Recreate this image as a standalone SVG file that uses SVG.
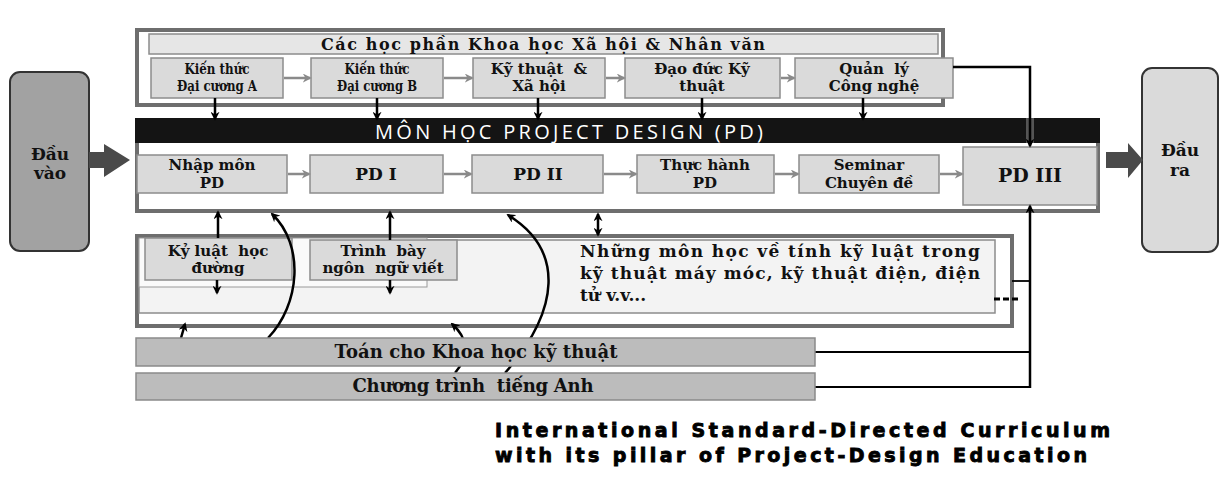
<svg xmlns="http://www.w3.org/2000/svg" width="1220" height="483" viewBox="0 0 1220 483">
<style>
.frame{fill:#fff;stroke:#6e6e6e;stroke-width:4}
.box{fill:#dadada;stroke:#8c8c8c;stroke-width:1.5}
.hdr{fill:#e6e6e6;stroke:#8c8c8c;stroke-width:1.5}
.bar{fill:#bcbcbc;stroke:#8a8a8a;stroke-width:1.5}
.t{font-family:"DejaVu Serif","Liberation Serif",serif;font-weight:bold;fill:#111;text-anchor:middle}
.s14{font-size:14px}.s15{font-size:15px}.s16{font-size:16px}.s17{font-size:17px}.s18{font-size:18px}
.blk{fill:none;stroke:#000;stroke-width:2.5}
.gry{fill:none;stroke:#8a8a8a;stroke-width:2.5}
.thin{fill:none;stroke:#000;stroke-width:1.8}
.big{fill:#4a4a4a}
</style>
<defs>
<marker id="ab" viewBox="0 0 10 10" refX="8" refY="5" markerWidth="9" markerHeight="9" markerUnits="userSpaceOnUse" orient="auto-start-reverse"><path d="M0,0 L10,5 L0,10 L3,5 z" fill="#000"/></marker>
<marker id="ag" viewBox="0 0 10 10" refX="8" refY="5" markerWidth="9" markerHeight="9" markerUnits="userSpaceOnUse" orient="auto"><path d="M0,0 L10,5 L0,10 L3,5 z" fill="#8a8a8a"/></marker>
</defs>
<rect width="1220" height="483" fill="#fff"/>

<!-- Top frame -->
<g id="humanities">
<rect class="frame" x="137" y="30" width="806" height="75"/>
<rect class="hdr" x="149" y="34" width="789" height="20"/>
<text class="t s16" x="543" y="50" textLength="444" lengthAdjust="spacing">Các học phần Khoa học Xã hội &amp; Nhân văn</text>
</g>
<g id="kt-a"><rect class="box" x="151" y="58" width="132" height="40"/>
<text class="t s14" x="217" y="74" textLength="65" lengthAdjust="spacingAndGlyphs">Kiến thức</text>
<text class="t s14" x="217" y="91" textLength="80" lengthAdjust="spacingAndGlyphs">Đại cương A</text></g>
<g id="kt-b"><rect class="box" x="311" y="58" width="132" height="40"/>
<text class="t s14" x="377" y="74" textLength="65" lengthAdjust="spacingAndGlyphs">Kiến thức</text>
<text class="t s14" x="377" y="91" textLength="80" lengthAdjust="spacingAndGlyphs">Đại cương B</text></g>
<g id="ktxh"><rect class="box" x="473" y="58" width="132" height="40"/>
<text class="t s15" x="539" y="74" xml:space="preserve">Kỹ thuật  &amp;</text>
<text class="t s15" x="539" y="91">Xã hội</text></g>
<g id="ddkt"><rect class="box" x="625" y="58" width="155" height="40"/>
<text class="t s15" x="702" y="74">Đạo đức Kỹ</text>
<text class="t s15" x="702" y="91">thuật</text></g>
<g id="qlcn"><rect class="box" x="795" y="58" width="158" height="40"/>
<text class="t s15" x="874" y="74" xml:space="preserve">Quản  lý</text>
<text class="t s15" x="874" y="91">Công nghệ</text></g>

<!-- PD frame -->
<g id="pd-frame">
<rect class="frame" x="137" y="120" width="961" height="91"/>
<rect x="135" y="118" width="965" height="25" fill="#141414"/>
<rect x="1026" y="118" width="8" height="25" fill="#555"/>
<text x="569" y="139" font-family="'Open Sans','Liberation Sans',sans-serif" font-size="20" fill="#fff" text-anchor="middle" textLength="388" lengthAdjust="spacing">MÔN HỌC PROJECT DESIGN (PD)</text>
</g>
<g id="nhap-mon"><rect class="box" x="137" y="155" width="150" height="38"/>
<text class="t s15" x="212" y="170">Nhập môn</text>
<text class="t s15" x="212" y="188">PD</text></g>
<g id="pd1"><rect class="box" x="310" y="155" width="133" height="38"/>
<text class="t s17" x="376" y="180">PD I</text></g>
<g id="pd2"><rect class="box" x="472" y="155" width="131" height="38"/>
<text class="t s17" x="538" y="180">PD II</text></g>
<g id="thuc-hanh"><rect class="box" x="637" y="155" width="137" height="38"/>
<text class="t s15" x="705" y="170">Thực hành</text>
<text class="t s15" x="705" y="188">PD</text></g>
<g id="seminar"><rect class="box" x="799" y="155" width="140" height="38"/>
<text class="t s15" x="869" y="170">Seminar</text>
<text class="t s15" x="869" y="188">Chuyên đề</text></g>
<g id="pd3"><rect class="box" x="963" y="147" width="134" height="58"/>
<text class="t" font-size="19" x="1030" y="182">PD III</text></g>

<!-- Input / output -->
<g id="dau-vao"><rect x="10" y="72" width="79" height="179" rx="10" fill="#a2a2a2" stroke="#333" stroke-width="2"/>
<text class="t s17" x="50" y="160">Đầu</text>
<text class="t s17" x="50" y="179">vào</text></g>
<g id="dau-ra"><rect x="1142" y="68" width="76" height="184" rx="10" fill="#dadada" stroke="#333" stroke-width="2"/>
<text class="t s17" x="1180" y="156">Đầu</text>
<text class="t s17" x="1180" y="176">ra</text></g>

<!-- Lower frame -->
<g id="discipline-frame">
<rect class="frame" x="137" y="236" width="875" height="90"/>
<rect x="139" y="240" width="856" height="73" fill="#f3f3f3" stroke="#8c8c8c" stroke-width="1.5"/>
<rect x="139" y="238" width="288" height="49" fill="#fafafa" stroke="#9a9a9a" stroke-width="1"/>
<text class="t s17" style="text-anchor:start" x="580" y="257" textLength="400" lengthAdjust="spacing">Những môn học về tính kỹ luật trong</text>
<text class="t s17" style="text-anchor:start" x="580" y="279" textLength="400" lengthAdjust="spacing">kỹ thuật máy móc, kỹ thuật điện, điện</text>
<text class="t s17" style="text-anchor:start" x="580" y="301">tử v.v...</text>
</g>
<g id="ky-luat"><rect class="box" x="145" y="238" width="147" height="42"/>
<text class="t s15" x="218" y="256" xml:space="preserve">Kỷ luật  học</text>
<text class="t s15" x="218" y="273">đường</text></g>
<g id="trinh-bay"><rect class="box" x="310" y="240" width="147" height="40"/>
<text class="t s15" x="383" y="256" xml:space="preserve">Trình  bày</text>
<text class="t s15" x="383" y="273" xml:space="preserve">ngôn  ngữ viết</text></g>

<!-- Connectors -->
<g id="connectors">
<path class="big" d="M89,152 L104,152 L104,144 L130,160 L104,177 L104,168 L89,168 z"/>
<path class="big" d="M1106,152 L1128,152 L1128,143 L1143,160 L1128,178 L1128,168 L1106,168 z"/>
<path class="gry" marker-end="url(#ag)" d="M284,78 L310,78"/>
<path class="gry" marker-end="url(#ag)" d="M444,78 L472,78"/>
<path class="gry" marker-end="url(#ag)" d="M606,78 L624,78"/>
<path class="gry" marker-end="url(#ag)" d="M781,78 L794,78"/>
<path class="blk" marker-end="url(#ab)" d="M215,98 L215,119"/>
<path class="blk" marker-end="url(#ab)" d="M377,98 L377,119"/>
<path class="blk" marker-end="url(#ab)" d="M538,98 L538,119"/>
<path class="blk" marker-end="url(#ab)" d="M702,98 L702,119"/>
<path class="blk" marker-end="url(#ab)" d="M863,98 L863,119"/>
<path class="blk" marker-end="url(#ab)" d="M953,67 L1030,67 L1030,146"/>
<path class="gry" marker-end="url(#ag)" d="M288,174 L309,174"/>
<path class="gry" marker-end="url(#ag)" d="M444,174 L471,174"/>
<path class="gry" marker-end="url(#ag)" d="M604,174 L636,174"/>
<path class="gry" marker-end="url(#ag)" d="M775,174 L798,174"/>
<path class="gry" marker-end="url(#ag)" d="M940,174 L962,174"/>
<path class="blk" marker-end="url(#ab)" d="M218,238 L218,212"/>
<path class="blk" marker-end="url(#ab)" d="M390,240 L390,212"/>
<path class="blk" stroke-width="4" marker-start="url(#ab)" marker-end="url(#ab)" d="M598,214 L598,235"/>
<path class="blk" marker-end="url(#ab)" d="M217,280 L217,293"/>
<path class="blk" marker-end="url(#ab)" d="M390,280 L390,293"/>
<path class="blk" marker-end="url(#ab)" d="M268,338 C300,305 305,245 272,214"/>
<path class="blk" marker-end="url(#ab)" d="M505,373 C560,310 565,250 508,215"/>
<path class="blk" marker-end="url(#ab)" d="M455,373 C470,355 468,338 452,324"/>
<path class="blk" marker-end="url(#ab)" d="M181,338 L185,324"/>
<path class="blk" stroke-width="3" marker-end="url(#ab)" d="M1030,388 L1030,206"/>
<path class="thin" d="M815,352 L1030,352"/>
<path class="thin" d="M815,387 L1030,387"/>
<path class="thin" d="M1012,281 L1030,281"/>
<path fill="none" stroke="#000" stroke-width="3" stroke-dasharray="6,3" d="M994,299 L1021,299"/>
</g>

<!-- Bottom bars -->
<g id="toan"><rect class="bar" x="136" y="338" width="679" height="28"/>
<text class="t s18" x="476" y="358" textLength="283" lengthAdjust="spacing">Toán cho Khoa học kỹ thuật</text></g>
<g id="tieng-anh"><rect class="bar" x="136" y="373" width="679" height="27"/>
<text class="t s18" x="473" y="392" textLength="241" lengthAdjust="spacing" xml:space="preserve">Chương trình  tiếng Anh</text></g>

<g id="caption" font-family="'DejaVu Sans','Liberation Sans',sans-serif" font-weight="bold" font-size="19" fill="#000" stroke="#000" stroke-width="0.9">
<text x="495" y="437" textLength="615" lengthAdjust="spacing">International Standard-Directed Curriculum</text>
<text x="495" y="462" textLength="592" lengthAdjust="spacing">with its pillar of Project-Design Education</text>
</g>
</svg>
